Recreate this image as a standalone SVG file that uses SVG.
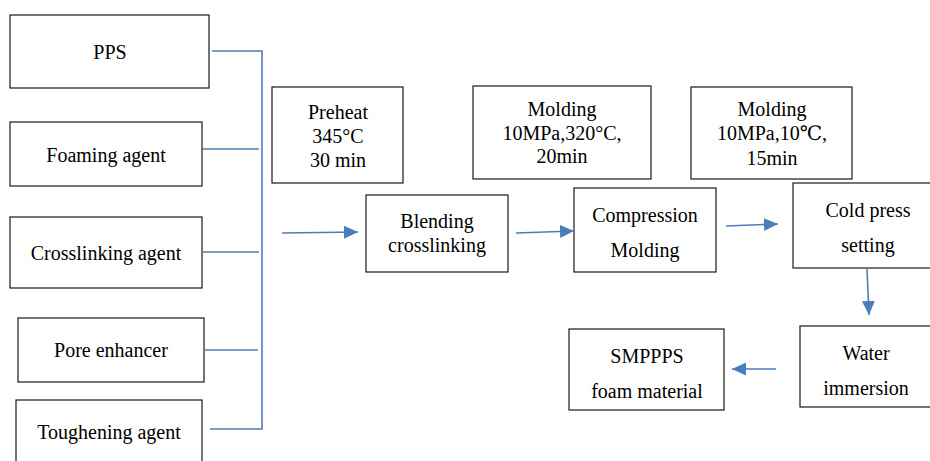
<svg xmlns="http://www.w3.org/2000/svg" width="930" height="461" viewBox="0 0 930 461">
<style>
.box{fill:#fff;stroke:#1a1a1a;stroke-width:1.2}
text{font-family:'Liberation Serif',Tinos,'Times New Roman','DejaVu Serif',serif;font-size:20px;fill:#000;text-anchor:middle}
.c{stroke:#4a7ebb;stroke-width:1.6;fill:none}
</style>
<defs>
<marker id="ah" markerUnits="userSpaceOnUse" markerWidth="14" markerHeight="14" viewBox="0 0 14 14" refX="14" refY="7" orient="auto">
<path d="M0,0.5 L14,7 L0,13.5 Z" fill="#4a7ebb"/>
</marker>
</defs>
<rect width="930" height="461" fill="#fff"/>
<g id="pps"><rect class="box" x="10" y="15" width="199" height="73"/><text x="110" y="59">PPS</text></g>
<g id="foaming"><rect class="box" x="10" y="122" width="192" height="64"/><text x="106" y="162">Foaming agent</text></g>
<g id="crosslinking"><rect class="box" x="10" y="217" width="192" height="71"/><text x="106" y="260">Crosslinking agent</text></g>
<g id="pore"><rect class="box" x="18" y="318" width="186" height="64"/><text x="111" y="357">Pore enhancer</text></g>
<g id="toughening"><rect class="box" x="16" y="400" width="186" height="70"/><text x="109" y="439">Toughening agent</text></g>
<g id="preheat"><rect class="box" x="272" y="87" width="131" height="96"/><text x="338" y="119">Preheat</text><text x="338" y="143">345°C</text><text x="338" y="167">30 min</text></g>
<g id="blending"><rect class="box" x="366" y="195" width="142" height="77"/><text x="437" y="228">Blending</text><text x="437" y="252">crosslinking</text></g>
<g id="molding1"><rect class="box" x="473" y="86" width="178" height="93"/><text x="562" y="116">Molding</text><text x="562" y="140">10MPa,320°C,</text><text x="562" y="163">20min</text></g>
<g id="compression"><rect class="box" x="574" y="188" width="142" height="84"/><text x="645" y="222">Compression</text><text x="645" y="257">Molding</text></g>
<g id="molding2"><rect class="box" x="691" y="87" width="161" height="92"/><text x="772" y="116">Molding</text><text x="772" y="140">10MPa,10℃,</text><text x="772" y="165">15min</text></g>
<g id="coldpress"><rect class="box" x="793" y="183" width="140" height="85"/><text x="868" y="217">Cold press</text><text x="868" y="252">setting</text></g>
<g id="water"><rect class="box" x="800" y="326" width="133" height="81"/><text x="866" y="360">Water</text><text x="866" y="395">immersion</text></g>
<g id="smppps"><rect class="box" x="569" y="329" width="155" height="81"/><text x="647" y="363">SMPPPS</text><text x="647" y="398">foam material</text></g>
<g id="connectors">
<path class="c" d="M212,51 H262 V429 H210"/>
<path class="c" d="M203,149 H259"/>
<path class="c" d="M203,252 H259"/>
<path class="c" d="M205,350 H258"/>
<path class="c" d="M282,233 L358,232" marker-end="url(#ah)"/>
<path class="c" d="M516,233 L574,231" marker-end="url(#ah)"/>
<path class="c" d="M726,226 L778,224" marker-end="url(#ah)"/>
<path class="c" d="M867,269 L869,315" marker-end="url(#ah)"/>
<path class="c" d="M776,369 L732,369" marker-end="url(#ah)"/>
</g>
</svg>
